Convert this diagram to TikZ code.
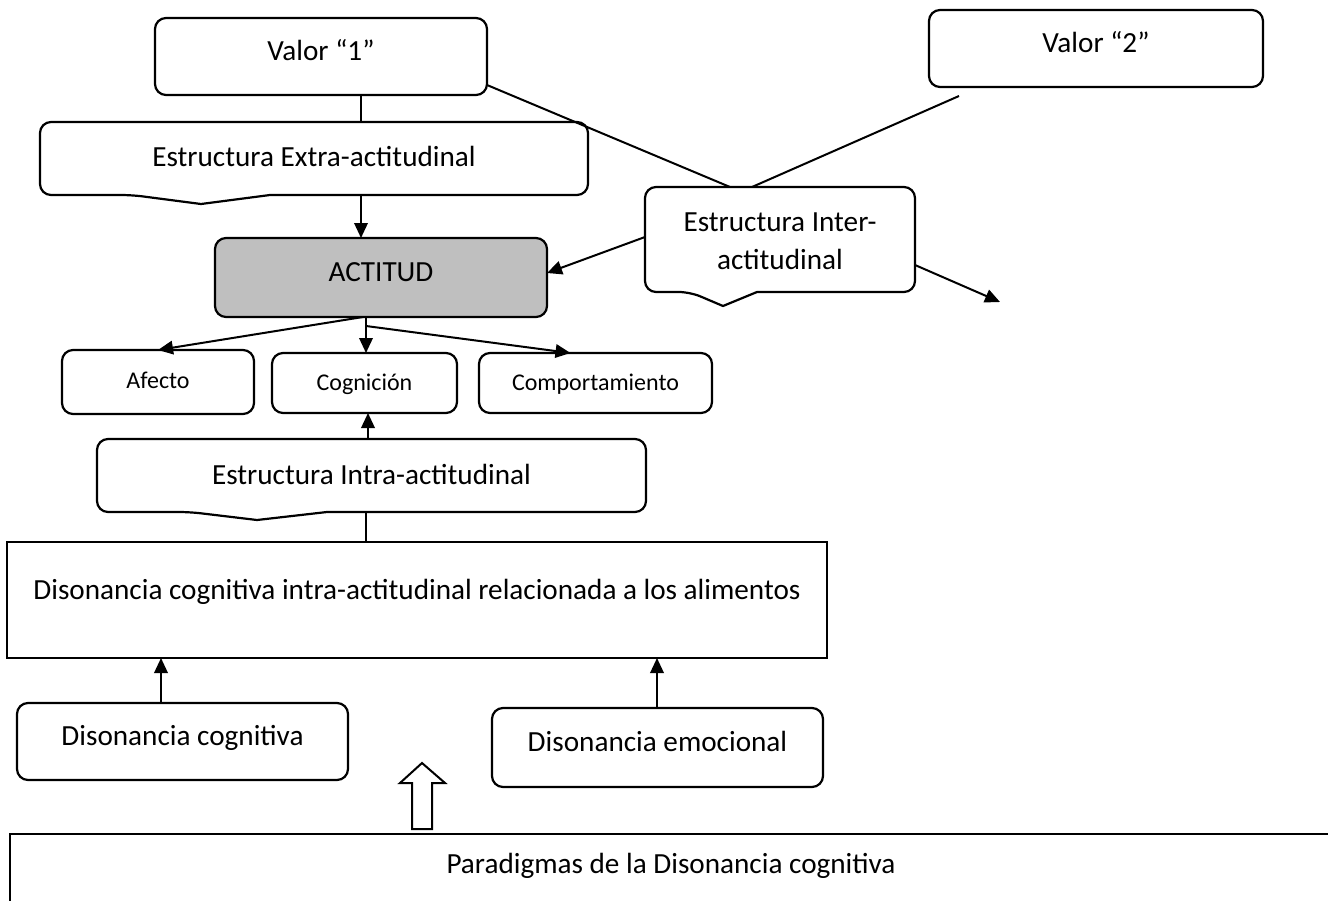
\documentclass[tikz,border=0pt]{standalone}
\usepackage{fontspec}
\setmainfont{Carlito}
\usetikzlibrary{arrows.meta,calc}
\definecolor{actgray}{HTML}{BFBFBF}
\newcommand\drawcallout[5]{%
  \draw[outl] (#1.west) [rounded corners=11pt] -- (#1.south west) -- ($(#1.south west)+(#2,0)$) [sharp corners] -- ($(#1.south west)+(#3,#4)$) -- ($(#1.south west)+(#5,0)$) [rounded corners=11pt] -- (#1.south east) -- (#1.north east) -- (#1.north west) -- cycle;}
\begin{document}
\begin{tikzpicture}[x=1pt,y=-1pt,
  every node/.style={inner sep=0pt, outer sep=0pt},
  base/.style={anchor=north west},
  rbox/.style={base, draw, line width=2.2pt, rounded corners=11pt},
  sbox/.style={base, draw, line width=2.2pt},
  plain/.style={base, draw=none},
  outl/.style={line width=2.2pt, line join=round},
  big/.style={font=\fontsize{29.2}{38}\selectfont, text height=18.8pt, text depth=0pt},
  small/.style={font=\fontsize{24}{28}\selectfont, text height=15.5pt, text depth=0pt},
  ln/.style={line width=2pt},
  arr/.style={line width=2pt, -{Triangle[length=15pt,width=13.5pt]}},
  blockarrow/.style={line width=2pt, fill=white, line join=miter}
]
\useasboundingbox (0,0) rectangle (1328,900);

% top values
\node[rbox, minimum width=332pt, minimum height=77pt, label={[big, yshift=5.5pt]center:Valor “1”}] (valor1) at (155,18) {};
\node[rbox, minimum width=334pt, minimum height=77pt, label={[big, yshift=5.5pt]center:Valor “2”}] (valor2) at (929,10) {};

% callouts
\node[plain, minimum width=548pt, minimum height=73pt, label={[big, yshift=1pt]center:Estructura Extra-actitudinal}] (extra) at (40,122) {};
\drawcallout{extra}{92}{161}{9}{230}
\node[plain, minimum width=270pt, minimum height=105pt, label={[font=\fontsize{29.2}{38}\selectfont, align=center, yshift=-2pt]center:Estructura Inter-\\actitudinal}] (inter) at (645,187) {};
\drawcallout{inter}{45}{78}{14}{112}
\node[plain, minimum width=549pt, minimum height=73pt, label={[big, yshift=0.5pt]center:Estructura Intra-actitudinal}] (intra) at (97,439) {};
\drawcallout{intra}{93}{160}{8}{230}

% attitude
\node[rbox, fill=actgray, minimum width=332pt, minimum height=79pt, label={[big, yshift=5pt]center:ACTITUD}] (actitud) at (215,238) {};

% components
\node[rbox, minimum width=192pt, minimum height=64pt, label={[small, yshift=1.5pt]center:Afecto}] (afecto) at (62,350) {};
\node[rbox, minimum width=185pt, minimum height=60pt, label={[small, yshift=0.5pt]center:Cognición}] (cogn) at (272,353) {};
\node[rbox, minimum width=233pt, minimum height=60pt, label={[small, yshift=0.5pt]center:Comportamiento}] (comp) at (479,353) {};

% dissonance box
\node[sbox, minimum width=820pt, minimum height=116pt, label={[big, yshift=9.5pt]center:Disonancia cognitiva intra-actitudinal relacionada a los alimentos}] (bigbox) at (7,542) {};

\node[rbox, minimum width=331pt, minimum height=77pt, label={[big, yshift=5.5pt]center:Disonancia cognitiva}] (dcog) at (17,703) {};
\node[rbox, minimum width=331pt, minimum height=79pt, label={[big, yshift=5.5pt]center:Disonancia emocional}] (demo) at (492,708) {};

% paradigms (box cut by the page)
\node[plain, minimum width=1340pt, minimum height=80pt, label={[big, xshift=-9pt, yshift=10pt]center:Paradigmas de la Disonancia cognitiva}] (para) at (10,834) {};
\draw[outl, line join=miter] (para.south west) -- (para.north west) -- (para.north east);

% connectors
\draw[ln] ([xshift=40pt]valor1.south) -- ([xshift=47pt]extra.north);
\draw[arr] ([xshift=47pt]extra.south) -- ([xshift=-20pt]actitud.north);
\draw[ln] ([yshift=10pt]valor1.south east) -- ([xshift=-50pt]inter.north);
\draw[ln] ([xshift=30pt,yshift=-9pt]valor2.south west) -- ([xshift=-28pt]inter.north);
\draw[arr] ([yshift=2.5pt]inter.west) -- ([yshift=4.5pt]actitud.east);
\coordinate (free) at (1000,302);
\draw[arr] ([yshift=-25.5pt]inter.east) -- (free);

\draw[arr] ([xshift=-18pt]actitud.south) -- (afecto.north);
\draw[ln] ([xshift=-15pt]actitud.south) -- ++(0,9) coordinate (br);
\draw[arr] (br) -- (br |- cogn.north);
\draw[arr] (br) -- ([xshift=-25pt]comp.north);

\draw[arr] ([xshift=-3.5pt]intra.north) -- ([xshift=-3.5pt]intra.north |- cogn.south);
\draw[ln] ([xshift=-5.5pt]intra.south) -- ([xshift=-5.5pt]intra.south |- bigbox.north);
\draw[arr] ([xshift=-21.5pt]dcog.north) -- ([xshift=-21.5pt]dcog.north |- bigbox.south);
\draw[arr] ([xshift=-0.5pt]demo.north) -- ([xshift=-0.5pt]demo.north |- bigbox.south);

% hollow block arrow from the paradigms box
\coordinate (bat) at (422,829);
\draw[blockarrow] ($(bat)+(-10,0)$) -- ($(bat)+(-10,-46)$) -- ($(bat)+(-22,-46)$) -- ($(bat)+(0,-66)$) -- ($(bat)+(23,-46)$) -- ($(bat)+(10,-46)$) -- ($(bat)+(10,0)$) -- cycle;
\end{tikzpicture}
\end{document}
